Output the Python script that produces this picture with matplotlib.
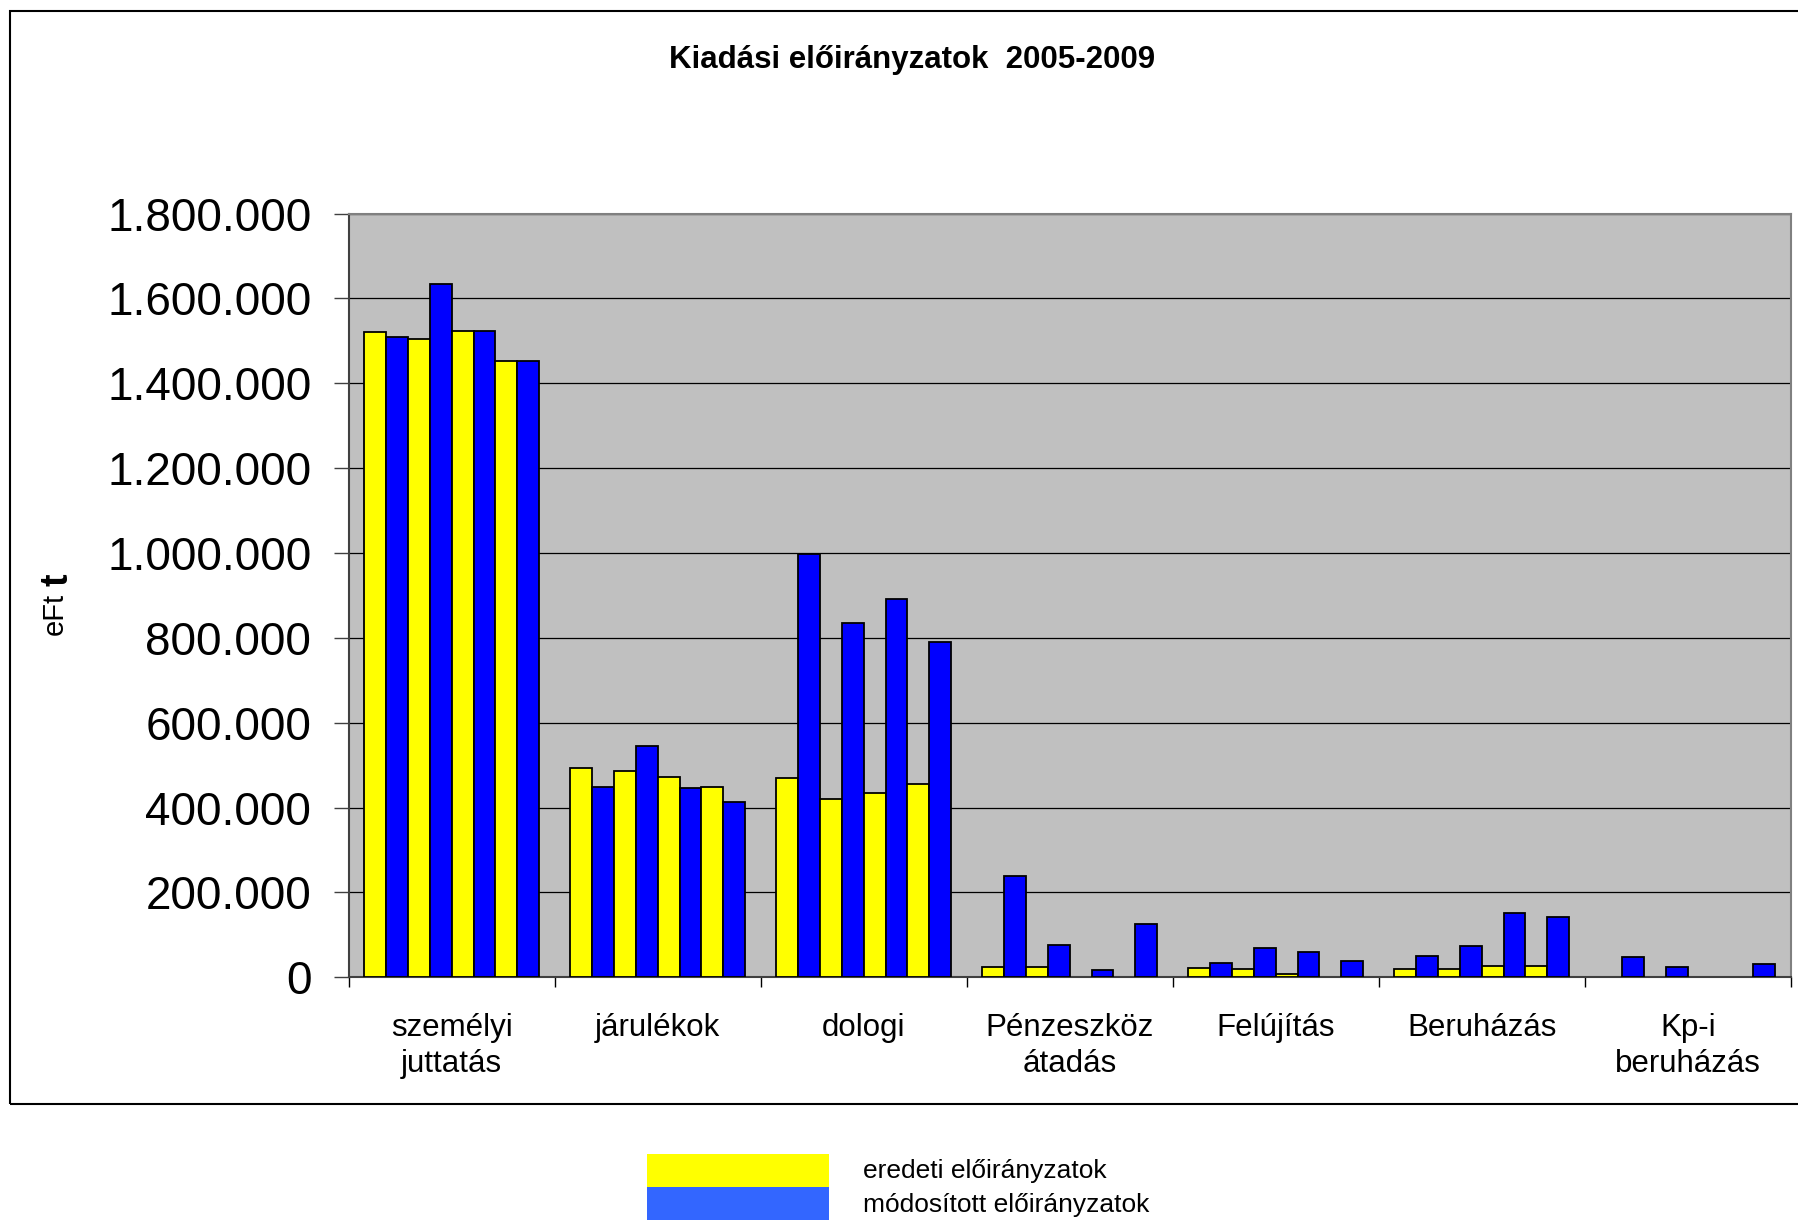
import matplotlib.pyplot as plt
from matplotlib.patches import Rectangle
from matplotlib.ticker import FuncFormatter, FixedLocator
import numpy as np

plt.rcParams['font.family'] = ['Liberation Sans', 'DejaVu Sans']

categories = ['személyi\njuttatás', 'járulékok', 'dologi', 'Pénzeszköz\nátadás',
              'Felújítás', 'Beruházás', 'Kp-i\nberuházás']

# 4 pairs of bars per category (eredeti / módosított)
eredeti = [
    [1521000, 1505000, 1524000, 1453000],
    [492000, 486000, 472000, 449000],
    [470000, 421000, 435000, 455000],
    [25000, 24000, 0, 0],
    [21000, 20000, 7000, 0],
    [20000, 20000, 27000, 27000],
    [0, 0, 0, 0],
]
modositott = [
    [1508000, 1633000, 1524000, 1453000],
    [449000, 545000, 446000, 412000],
    [998000, 835000, 891000, 789000],
    [239000, 75000, 17000, 125000],
    [34000, 68000, 60000, 39000],
    [50000, 73000, 151000, 141000],
    [47000, 23000, 0, 31000],
]
yticks = np.arange(0, 1800001, 200000)

eredeti = np.array(eredeti)
modositott = np.array(modositott)
x = np.arange(len(categories))
n_bars = 8
w = 0.106
offsets = (np.arange(n_bars) - (n_bars - 1) / 2) * w

fig = plt.figure(figsize=(17.98, 12.20), dpi=100)
ax = fig.add_axes([0.194, 0.199, 0.802, 0.626])
ax.set_facecolor('#C0C0C0')


def draw(vals, pos, color):
    # empty cells are not drawn at all
    m = vals > 0
    ax.bar(x[m] + pos, vals[m], width=w, color=color,
           edgecolor='black', linewidth=1.3, zorder=3)


for k in range(4):
    draw(eredeti[:, k], offsets[2 * k], '#FFFF00')
    draw(modositott[:, k], offsets[2 * k + 1], '#0000FF')

ax.set_xlim(-0.5, len(categories) - 0.5)
ax.set_ylim(0, 1800000)
ax.set_yticks(yticks)
ax.yaxis.set_major_formatter(FuncFormatter(lambda v, p: f'{int(v):,}'.replace(',', '.')))
ax.grid(axis='y', color='black', linewidth=0.9, zorder=1)

ax.set_xticks(x)
ax.set_xticklabels(categories, fontsize=22.5, linespacing=1.25)
ax.xaxis.set_minor_locator(FixedLocator(np.arange(-0.5, len(categories), 1.0)))
ax.tick_params(axis='x', which='major', length=0, pad=26)
ax.tick_params(axis='x', which='minor', length=7, width=1.0, color='black')
ax.tick_params(axis='y', labelsize=33, length=11, width=1.0, color='#404040', pad=16)

for s in ['top', 'right']:
    ax.spines[s].set_color('#808080')
    ax.spines[s].set_linewidth(1.5)
ax.spines['left'].set_color('#404040')
ax.spines['left'].set_linewidth(1.5)
ax.spines['bottom'].set_color('#404040')
ax.spines['bottom'].set_linewidth(1.5)

fig.text(0.507, 0.951, 'Kiadási előirányzatok  2005-2009', fontsize=22.5,
         fontweight='bold', ha='center', va='center')

# y label: "eFt" with an extra bold t
fig.text(0.0306, 0.497, 'eFt', fontsize=21, rotation=90, ha='center', va='center')
fig.text(0.0322, 0.5245, 't', fontsize=27, fontweight='bold', rotation=90,
         ha='center', va='center')

# outer chart border
fig.patches.append(Rectangle((0.0056, 0.095), 1.2, 0.896, transform=fig.transFigure,
                             fill=False, edgecolor='black', linewidth=1.5))

# legend
fig.patches.append(Rectangle((0.360, 0.027), 0.101, 0.027, transform=fig.transFigure,
                             facecolor='#FFFF00', edgecolor='none'))
fig.patches.append(Rectangle((0.360, 0.0), 0.101, 0.027, transform=fig.transFigure,
                             facecolor='#3366FF', edgecolor='none'))
fig.text(0.480, 0.040, 'eredeti előirányzatok', fontsize=19, ha='left', va='center')
fig.text(0.480, 0.012, 'módosított előirányzatok', fontsize=19, ha='left', va='center')

fig.savefig('out.png', dpi=100)
